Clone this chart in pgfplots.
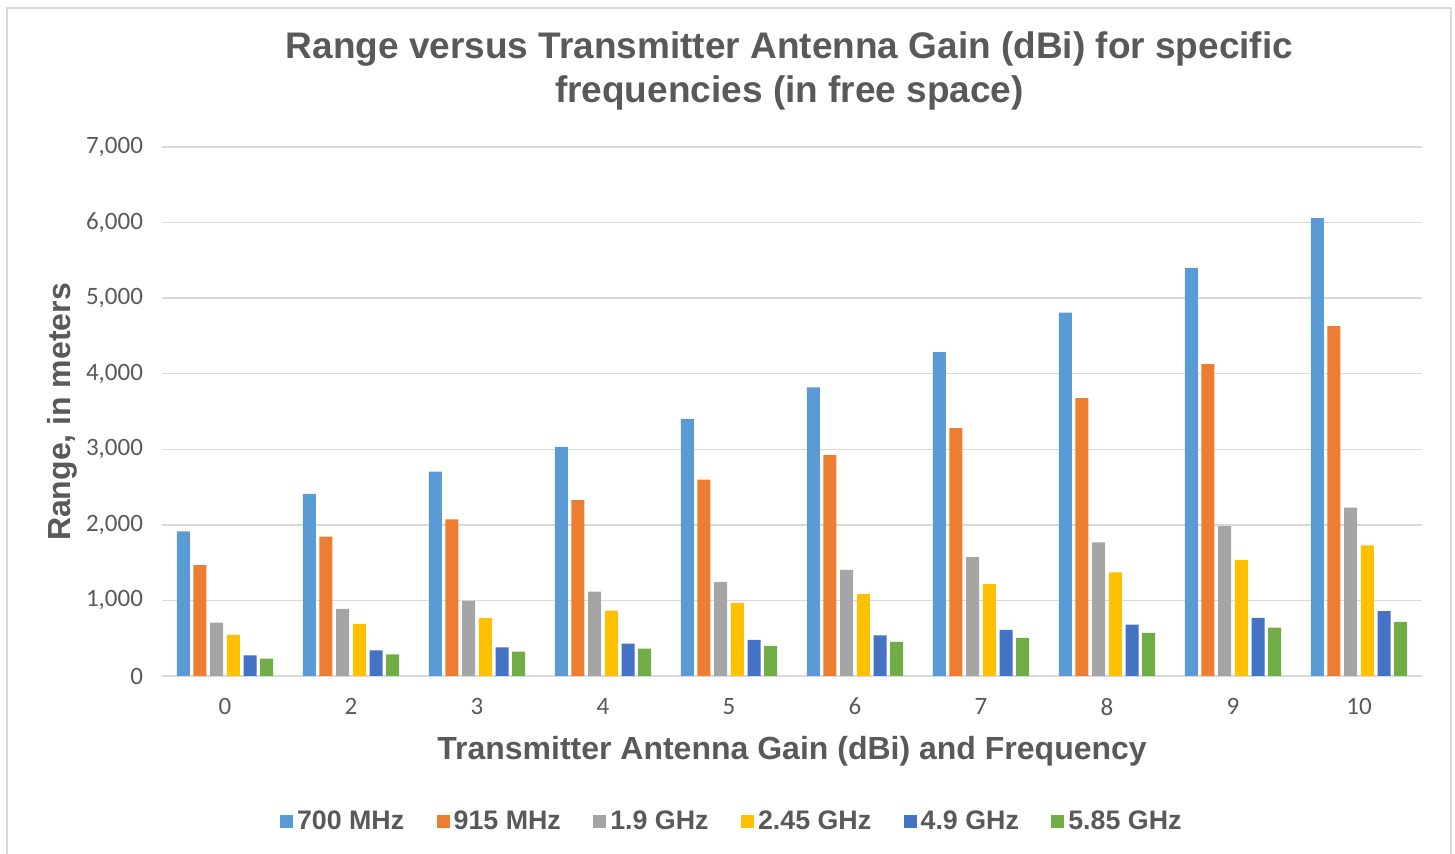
\documentclass[border=0pt]{standalone}
\usepackage{pgfplots}
\usepackage{pgfplotstable}
\pgfplotsset{compat=1.18}
\usepackage{fontspec}
\setmainfont{Liberation Sans}
\newfontfamily\calfont{Carlito}
\definecolor{txt}{HTML}{595959}
\definecolor{gridc}{HTML}{D9D9D9}
\definecolor{cA}{HTML}{5B9BD5}
\definecolor{cB}{HTML}{ED7D31}
\definecolor{cC}{HTML}{A5A5A5}
\definecolor{cD}{HTML}{FFC000}
\definecolor{cE}{HTML}{4472C4}
\definecolor{cF}{HTML}{70AD47}
\pgfplotstableread{
x f700 f915 f1900 f2450 f4900 f5850
0 1912 1466 706 543 274 230
1 2410 1845 887 689 340 287
2 2705 2071 993 768 380 322
3 3033 2327 1117 865 428 362
4 3403 2598 1246 968 477 398
5 3818 2921 1405 1087 539 451
6 4286 3279 1573 1215 610 504
7 4808 3677 1768 1370 680 570
8 5400 4127 1984 1538 769 641
9 6058 4631 2227 1728 857 716
}\datatable
\begin{document}
\begin{tikzpicture}
\useasboundingbox (0,0) rectangle (727.5pt,427pt);
\draw[gridc, line width=1pt] (3.5pt,-10pt) -- (3.5pt,423pt) -- (725.5pt,423pt) -- (725.5pt,-10pt);
\begin{axis}[
  at={(81pt,89pt)}, anchor=south west,
  scale only axis, width=630pt, height=264.5pt,
  xmin=-0.5, xmax=9.5, ymin=0, ymax=7000,
  ybar, bar width=0.103,
  xtick=data, xticklabels={0,2,3,4,5,6,7,8,9,10},
  ytick={0,1000,...,7000},
  major tick length=0pt,
  axis x line*=bottom, axis y line*=left,
  x axis line style={draw=gridc, line width=0.75pt, -},
  y axis line style={draw=none},
  ymajorgrids, grid style={draw=gridc, line width=0.75pt},
  /pgf/number format/assume math mode=true,
  /pgf/number format/1000 sep={,},
  scaled y ticks=false,
  ticklabel style={font=\calfont\fontsize{12.5}{14}\selectfont, text=txt},
  yticklabel style={xshift=-6pt},
  xticklabel style={yshift=-7.5pt},
  title={Range versus Transmitter Antenna Gain (dBi) for specific\\frequencies (in free space)},
  title style={at={(0.498,1.122)}, anchor=center, align=center, text=txt, font=\fontsize{18.5}{22}\selectfont\bfseries},
  xlabel={Transmitter Antenna Gain (dBi) and Frequency},
  xlabel style={at={(0.5,-0.142)}, anchor=center, text=txt, font=\fontsize{16}{19}\selectfont\bfseries},
  ylabel={Range, in meters},
  ylabel style={at={(-0.0794,0.499)}, anchor=center, text=txt, font=\fontsize{16}{19}\selectfont\bfseries},
  legend columns=6,
  legend style={at={(0.453,-0.276)}, anchor=center, draw=none, fill=none,
    font=\fontsize{13.4}{16}\selectfont\bfseries, text=txt,
    nodes={inner xsep=2pt, inner ysep=0pt},
    /tikz/every even column/.append style={column sep=14.2pt}},
  legend image code/.code={\fill[#1] (0pt,-3.25pt) rectangle (6.5pt,3.25pt);},
]
\addplot[fill=cA, draw=none, bar shift=-0.331] table[x=x, y=f700] {\datatable};
\addplot[fill=cB, draw=none, bar shift=-0.199] table[x=x, y=f915] {\datatable};
\addplot[fill=cC, draw=none, bar shift=-0.066] table[x=x, y=f1900] {\datatable};
\addplot[fill=cD, draw=none, bar shift=0.066] table[x=x, y=f2450] {\datatable};
\addplot[fill=cE, draw=none, bar shift=0.199] table[x=x, y=f4900] {\datatable};
\addplot[fill=cF, draw=none, bar shift=0.331] table[x=x, y=f5850] {\datatable};
\legend{700 MHz, 915 MHz, 1.9 GHz, 2.45 GHz, 4.9 GHz, 5.85 GHz}
\end{axis}
\end{tikzpicture}
\end{document}
